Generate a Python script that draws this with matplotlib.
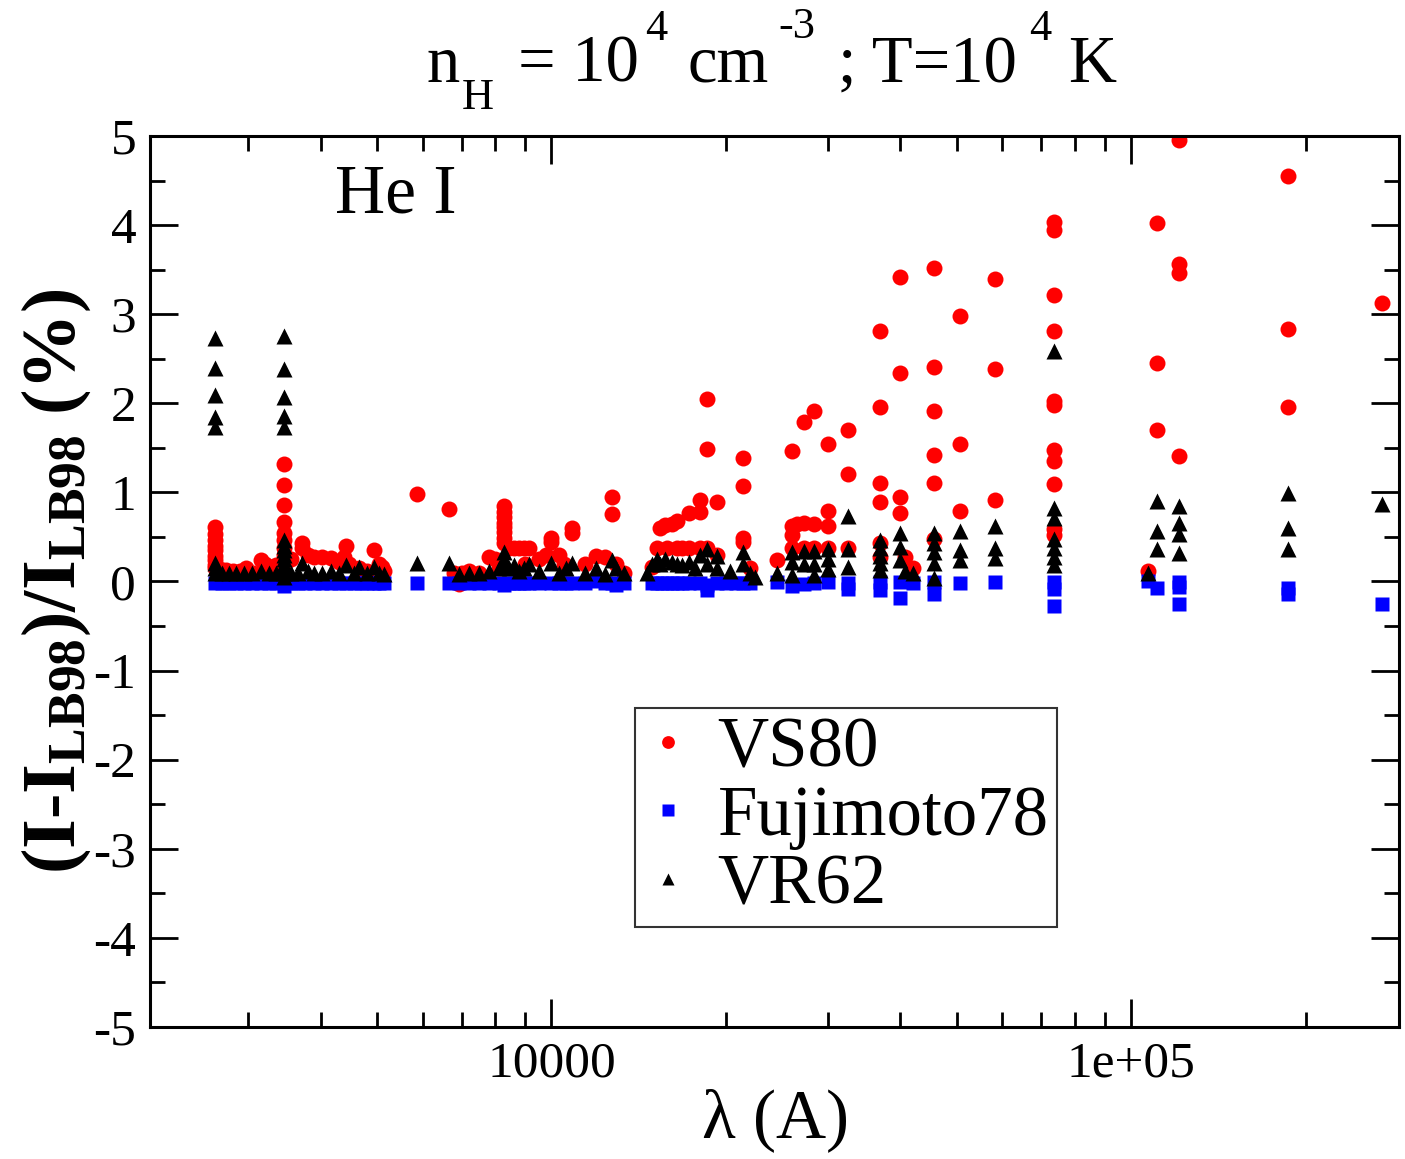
import numpy as np
import matplotlib.pyplot as plt
from matplotlib.ticker import FixedLocator, NullFormatter, MultipleLocator

plt.rcParams['font.family'] = 'Liberation Serif'
plt.rcParams['mathtext.fontset'] = 'custom'
plt.rcParams['mathtext.rm'] = 'Liberation Serif'
plt.rcParams['mathtext.it'] = 'Liberation Serif:italic'
plt.rcParams['mathtext.bf'] = 'Liberation Serif:bold'
plt.rcParams['axes.unicode_minus'] = False

# VS80 (red circles): wavelength (A), relative difference (%)
vs80 = [
    (2623, 0.61), (2623, 0.53), (2623, 0.46), (2623, 0.40), (2623, 0.35), (2623, 0.29),
    (2623, 0.24), (2623, 0.19), (2623, 0.15), (2685, 0.14), (2750, 0.13), (2820, 0.12),
    (2900, 0.12), (2970, 0.15), (3060, 0.10), (3149, 0.24), (3200, 0.20), (3251, 0.16),
    (3350, 0.18), (3400, 0.20),
    (3452, 1.32), (3452, 1.08), (3452, 0.86), (3452, 0.67), (3452, 0.54), (3452, 0.46),
    (3452, 0.38), (3452, 0.30), (3452, 0.22), (3452, 0.15),
    (3550, 0.25), (3710, 0.43), (3710, 0.38), (3800, 0.30), (3890, 0.27), (4015, 0.27),
    (4161, 0.26), (4298, 0.22), (4380, 0.27), (4420, 0.40), (4477, 0.20), (4656, 0.15),
    (4806, 0.12), (4940, 0.35), (5037, 0.20), (5100, 0.16), (5140, 0.12),
    (5860, 0.98), (6661, 0.81), (6800, 0.10), (6930, -0.03), (7000, 0.10), (7213, 0.12),
    (7506, 0.10), (7811, 0.27), (8000, 0.25), (8128, 0.15),
    (8292, 0.85), (8292, 0.78), (8292, 0.72), (8292, 0.66), (8292, 0.61), (8292, 0.55),
    (8292, 0.49), (8292, 0.43),
    (8459, 0.38), (8631, 0.38), (8803, 0.38), (8980, 0.38), (9160, 0.38), (9000, 0.20),
    (9500, 0.25), (9800, 0.30), (10000, 0.49), (10000, 0.44), (10323, 0.30), (10500, 0.20),
    (10872, 0.60), (10872, 0.54), (11405, 0.20), (11916, 0.29), (12351, 0.28),
    (12700, 0.95), (12700, 0.76), (12904, 0.20), (13366, 0.10),
    (14894, 0.16), (15195, 0.38), (15383, 0.60), (15687, 0.63), (15800, 0.38),
    (16126, 0.65), (16451, 0.68), (16451, 0.38), (16800, 0.38), (17259, 0.77),
    (17259, 0.38), (18032, 0.91), (18032, 0.78), (18032, 0.38), (18535, 2.05),
    (18535, 1.49), (18535, 0.38), (19299, 0.89), (19299, 0.30), (21399, 1.39),
    (21399, 1.07), (21399, 0.49), (21399, 0.44), (22000, 0.15),
    (24501, 0.24), (26001, 1.46), (26001, 0.62), (26001, 0.52), (26001, 0.38),
    (26500, 0.65), (27286, 1.79), (27286, 0.66), (27286, 0.38), (28379, 1.91),
    (28379, 0.64), (28379, 0.38), (30022, 1.54), (30022, 0.79), (30022, 0.62),
    (30022, 0.38), (32514, 1.70), (32514, 1.21), (32514, 0.38),
    (36938, 2.81), (36938, 1.96), (36938, 1.10), (36938, 0.89), (36938, 0.43), (36938, 0.27),
    (39997, 3.42), (39997, 2.34), (39997, 0.95), (39997, 0.77), (40807, 0.27), (42124, 0.15),
    (45793, 3.52), (45793, 2.41), (45793, 1.91), (45793, 1.42), (45793, 1.10), (45793, 0.48),
    (50600, 2.98), (50600, 1.54), (50600, 0.79),
    (58182, 3.40), (58182, 2.38), (58182, 0.91),
    (73577, 4.03), (73577, 3.94), (73577, 3.21), (73577, 2.81), (73577, 2.03),
    (73577, 1.98), (73577, 1.47), (73577, 1.35), (73577, 1.09), (73577, 0.59), (73577, 0.52),
    (107000, 0.12), (110915, 4.02), (110915, 2.45), (110915, 1.70),
    (121060, 4.96), (121060, 3.56), (121060, 3.46), (121060, 1.41),
    (186200, 4.55), (186200, 2.83), (186200, 1.96),
    (270700, 3.13),
]

# Fujimoto78 (blue squares)
fuji78 = [
    (2623, -0.02), (2700, -0.02), (2780, -0.02), (2860, -0.02), (2950, -0.02),
    (3040, -0.02), (3149, -0.02), (3250, -0.02), (3350, -0.02), (3452, -0.02),
    (3452, -0.05), (3550, -0.02), (3650, -0.02), (3750, -0.02), (3890, -0.02),
    (4015, -0.02), (4161, -0.02), (4298, -0.02), (4420, -0.02), (4560, -0.02),
    (4700, -0.02), (4806, -0.02), (4940, -0.02), (5037, -0.02), (5140, -0.02),
    (5860, -0.02), (6661, -0.02), (6930, -0.02), (7213, -0.02), (7506, -0.02),
    (7811, -0.02), (8128, -0.02), (8292, -0.04), (8459, -0.02), (8631, -0.02),
    (8803, -0.02), (8980, -0.02), (9160, -0.02), (9533, -0.02), (10000, -0.02),
    (10323, -0.02), (10600, -0.02), (10872, -0.02), (11405, -0.02), (11916, 0.00),
    (12351, -0.02), (12700, -0.02), (12904, -0.04), (13366, -0.02),
    (14894, -0.02), (15195, -0.02), (15500, -0.02), (15800, -0.02), (16126, -0.02),
    (16451, -0.02), (16800, -0.02), (17259, -0.02), (18032, -0.02), (18535, -0.10),
    (18535, -0.04), (19299, -0.02), (20000, -0.02), (20800, -0.02), (21399, -0.02),
    (22000, -0.02),
    (24501, -0.01), (26001, -0.05), (27286, -0.03), (28379, -0.02), (30022, -0.01),
    (32514, -0.02), (32514, -0.08), (36938, -0.01), (36938, -0.10), (39997, -0.01),
    (39997, -0.18), (42124, -0.02), (45793, -0.01), (45793, -0.14), (50600, -0.02),
    (58182, -0.01), (73577, -0.01), (73577, -0.08), (73577, -0.27), (107000, 0.00),
    (110915, -0.07), (121060, -0.01), (121060, -0.06), (121060, -0.25),
    (186200, -0.07), (186200, -0.14), (270700, -0.25),
]

# VR62 (black triangles)
vr62 = [
    (2623, 2.73), (2623, 2.40), (2623, 2.09), (2623, 1.85), (2623, 1.73), (2623, 0.21),
    (2623, 0.15), (2623, 0.10),
    (3452, 2.76), (3452, 2.38), (3452, 2.07), (3452, 1.86), (3452, 1.73), (3452, 0.46),
    (3452, 0.40), (3452, 0.35), (3452, 0.30), (3452, 0.25), (3452, 0.20), (3452, 0.15),
    (3452, 0.10), (3452, 0.05),
    (2700, 0.10), (2780, 0.10), (2860, 0.10), (2950, 0.10), (3040, 0.10), (3149, 0.12),
    (3250, 0.10), (3350, 0.10), (3550, 0.10), (3650, 0.10), (3710, 0.21), (3800, 0.12),
    (3890, 0.10), (4015, 0.10), (4161, 0.12), (4298, 0.10), (4420, 0.18), (4560, 0.09),
    (4656, 0.16), (4806, 0.10), (4940, 0.16), (5037, 0.10), (5140, 0.08),
    (5860, 0.21), (6661, 0.21),
    (6930, 0.08), (7213, 0.10), (7506, 0.10), (7811, 0.12), (8128, 0.15), (8292, 0.33),
    (8292, 0.25), (8292, 0.18), (8459, 0.15), (8631, 0.18), (8803, 0.12), (8980, 0.15),
    (9160, 0.20), (9533, 0.12), (10000, 0.21), (10323, 0.10), (10600, 0.15),
    (10872, 0.21), (11405, 0.10), (11916, 0.15), (12351, 0.08), (12700, 0.24),
    (12904, 0.15), (13366, 0.10),
    (14600, 0.10), (14894, 0.20), (15195, 0.25), (15383, 0.20), (15687, 0.25),
    (16126, 0.22), (16451, 0.20), (16800, 0.18), (17259, 0.22), (17700, 0.15),
    (18032, 0.30), (18535, 0.37), (18535, 0.20), (19299, 0.29), (19299, 0.15),
    (20318, 0.12), (21399, 0.33), (21399, 0.20), (22000, 0.10), (22445, 0.05),
    (24501, 0.10), (26001, 0.33), (26001, 0.22), (26001, 0.07), (27286, 0.34),
    (27286, 0.20), (28379, 0.34), (28379, 0.20), (28379, 0.07), (30022, 0.36),
    (30022, 0.25), (30022, 0.14), (32514, 0.74), (32514, 0.37), (32514, 0.16),
    (36938, 0.46), (36938, 0.38), (36938, 0.29), (36938, 0.21), (36938, 0.13),
    (39997, 0.54), (39997, 0.39), (39997, 0.24), (40807, 0.12), (42124, 0.10),
    (45793, 0.54), (45793, 0.43), (45793, 0.33), (45793, 0.21), (45793, 0.04),
    (50600, 0.57), (50600, 0.35), (50600, 0.24),
    (58182, 0.62), (58182, 0.38), (58182, 0.26),
    (73577, 2.59), (73577, 0.83), (73577, 0.71), (73577, 0.48), (73577, 0.38),
    (73577, 0.27), (73577, 0.18),
    (107000, 0.09), (110915, 0.90), (110915, 0.57), (110915, 0.37),
    (121060, 0.85), (121060, 0.66), (121060, 0.53), (121060, 0.32),
    (186200, 0.99), (186200, 0.60), (186200, 0.37),
    (270700, 0.87),
]

vs80 = np.array(vs80)
fuji78 = np.array(fuji78)
vr62 = np.array(vr62)

W, H = 1405, 1159
fig = plt.figure(figsize=(W / 100, H / 100), dpi=100)
ax = fig.add_axes([0.1068, 0.1139, 0.8890, 0.7688])

ax.plot(vs80[:, 0], vs80[:, 1], 'o', color='red', ms=11.5, mec='none', label='VS80')
ax.plot(fuji78[:, 0], fuji78[:, 1], 's', color='blue', ms=10, mec='none', label='Fujimoto78')
ax.plot(vr62[:, 0], vr62[:, 1], '^', color='black', ms=11.5, mec='none', label='VR62')

ax.set_xscale('log')
ax.set_xlim(2030, 2.9e5)
ax.set_ylim(-5, 5)

ax.set_xticks([1e4, 1e5])
ax.set_xticklabels(['10000', '1e+05'])
minors = [m * 10 ** d for d in (3, 4, 5) for m in range(2, 10)]
ax.xaxis.set_minor_locator(FixedLocator(minors))
ax.xaxis.set_minor_formatter(NullFormatter())
ax.yaxis.set_major_locator(MultipleLocator(1))
ax.yaxis.set_minor_locator(MultipleLocator(0.5))

ax.tick_params(which='both', direction='in', top=True, right=True, width=2)
ax.tick_params(which='major', length=20, labelsize=37, pad=10)
ax.tick_params(which='minor', length=11)
for s in ax.spines.values():
    s.set_linewidth(2.2)

ax.set_xlabel(r'$\mathregular{\lambda}$ (A)', fontsize=50, labelpad=0)
ax.set_ylabel('$\\mathbf{(I\u2010I_{LB98})/I_{LB98}\\ (\\%)}$', fontsize=55, labelpad=0)

# title pieces (xmgrace style sub/superscripts)
title_parts = [('n', 426, 82, 48), ('H', 462, 109, 32), ('= 10', 518, 82, 48),
               ('4', 645, 40, 32), ('cm', 688, 82, 48), ('-3', 778, 38, 32),
               ('; T=10', 838, 82, 48), ('4', 1029, 40, 32), ('K', 1068, 82, 48)]
for txt, px, py, fs in title_parts:
    fig.text(px / W, 1 - py / H, txt, fontsize=fs, va='baseline', ha='left')

ax.text(0.148, 0.9136, 'He I', transform=ax.transAxes, fontsize=50, va='baseline')

leg = ax.legend(loc='upper left', bbox_to_anchor=(0.388, 0.358), fontsize=51,
                frameon=True, fancybox=False, edgecolor='black', markerscale=0.8,
                handletextpad=0.35, labelspacing=0.05, borderpad=0.12, handlelength=0.7,
                borderaxespad=0)
leg.get_frame().set_linewidth(1.5)

fig.savefig('out.png', dpi=100)
